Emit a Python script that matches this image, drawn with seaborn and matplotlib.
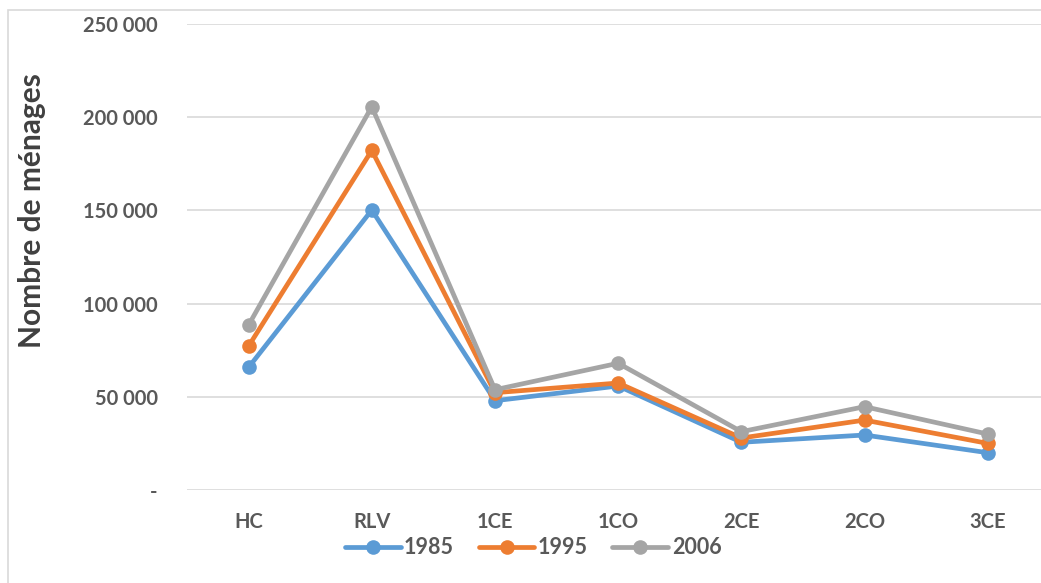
import matplotlib
matplotlib.use('Agg')
import matplotlib.pyplot as plt
import matplotlib.ticker as mticker
from matplotlib.patches import Rectangle
import pandas as pd
import seaborn as sns

# Values
zones = ['HC', 'RLV', '1CE', '1CO', '2CE', '2CO', '3CE']
menages_1985 = [65800, 150200, 47900, 55800, 25600, 29500, 20000]
menages_1995 = [77200, 182200, 52200, 57400, 27900, 37500, 25000]
menages_2006 = [88500, 205600, 53800, 68000, 31300, 44700, 30000]
years = ['1985', '1995', '2006']
colors = ['#5b9bd5', '#ed7d31', '#a5a5a5']

df = pd.DataFrame({'zone': zones * 3,
                   'menages': menages_1985 + menages_1995 + menages_2006,
                   'annee': [y for y in years for _ in zones]})

sns.set_style('white')
plt.rcParams['font.family'] = ['Lato', 'DejaVu Sans']

fig = plt.figure(figsize=(10.41, 5.83), dpi=100)
# light frame of the chart area (cut off on the right and bottom like the screenshot)
fig.patches.append(Rectangle((8 / 1041, -0.1), 1.2, 1.1 - 10 / 583, transform=fig.transFigure,
                             fill=False, edgecolor='#d9d9d9', linewidth=1.2))
ax = fig.add_axes([187 / 1041, 1 - 490 / 583, (1041 - 187) / 1041, (490 - 24) / 583])

sns.lineplot(data=df, x='zone', y='menages', hue='annee', palette=colors, marker='o',
             markersize=10.5, markeredgewidth=0, linewidth=3.4, sort=False, ax=ax)

ax.set_xlim(-0.5, -0.5 + (1041 - 187) / 123.2)
ax.set_ylim(0, 250000)
ax.yaxis.set_major_locator(mticker.MultipleLocator(50000))
ax.yaxis.set_major_formatter(mticker.FuncFormatter(
    lambda v, p: '-' if v == 0 else f'{int(v):,}'.replace(',', ' ')))
ax.grid(axis='y', color='#d9d9d9', linewidth=1.2)
ax.set_axisbelow(True)
for s in ax.spines.values():
    s.set_visible(False)
ax.tick_params(axis='both', length=0, labelsize=14.5, labelcolor='#595959')
ax.tick_params(axis='y', pad=21)
ax.tick_params(axis='x', pad=16)
for lab in ax.get_xticklabels() + ax.get_yticklabels():
    lab.set_fontweight('bold')
ax.set_xlabel('')
ax.set_ylabel('Nombre de ménages', fontsize=21.5, fontweight='bold', color='#404040')
ax.yaxis.set_label_coords(-0.165, 0.6)

handles, labels = ax.get_legend_handles_labels()
ax.legend(handles, labels, loc='center', bbox_to_anchor=(533 / 1041, 1 - 548 / 583),
          bbox_transform=fig.transFigure, ncol=3, frameon=False, handlelength=2.6,
          columnspacing=1.15, handletextpad=0.15,
          prop={'size': 15.5, 'weight': 'bold'}, labelcolor='#595959')

fig.savefig('out.png', dpi=100)
